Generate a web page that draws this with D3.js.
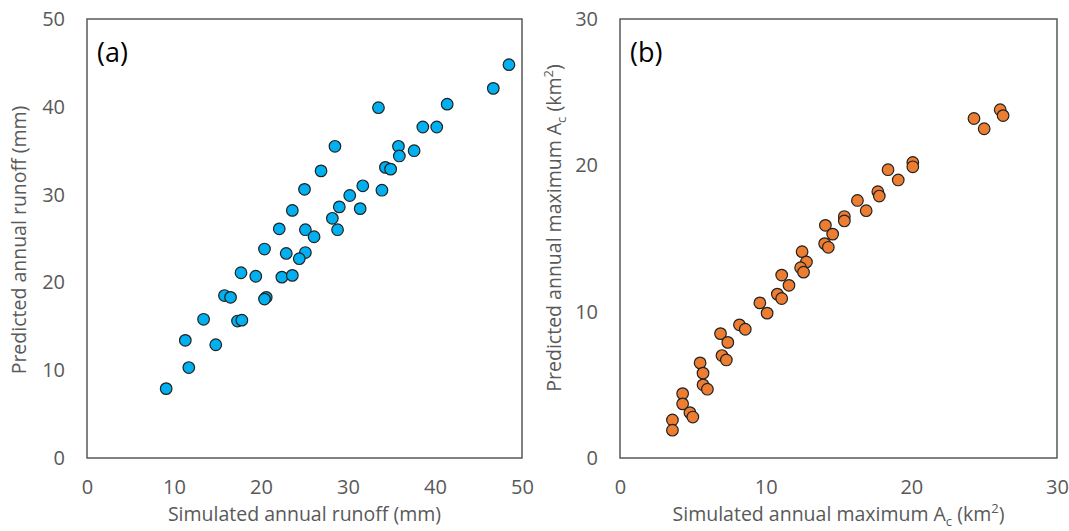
<!DOCTYPE html>
<html>
<head>
<meta charset="utf-8">
<script src="https://cdn.jsdelivr.net/npm/d3@7"></script>
<style>
  body { margin: 0; background: #fff; }
  .tick text { font-family: "Open Sans", sans-serif; font-size: 20px; fill: #595959; }
  .label { font-family: "Open Sans", sans-serif; font-size: 19.5px; fill: #595959; }
  .panel { font-family: "Open Sans", sans-serif; font-size: 27px; fill: #000; }
</style>
</head>
<body>
<div id="chart"></div>
<script>
// panel (a): simulated vs predicted annual runoff (mm)
var runoffSim = [48.5, 46.7, 33.5, 41.4, 38.6, 40.2, 28.5, 35.8, 37.6, 35.9, 26.9, 34.3, 34.9, 25.0, 31.7,
    30.2, 33.9, 29.0, 31.4, 23.6, 28.2, 22.1, 25.1, 28.8, 26.1, 20.4, 22.9, 25.1, 24.4, 17.7,
    19.4, 22.4, 23.6, 15.8, 16.5, 20.6, 20.4, 13.4, 17.3, 17.8, 11.3, 14.8, 11.7, 9.1];
var runoffPred = [44.8, 42.1, 39.9, 40.3, 37.7, 37.7, 35.5, 35.5, 35.0, 34.4, 32.7, 33.1, 32.9, 30.6, 31.0,
    29.9, 30.5, 28.6, 28.4, 28.2, 27.3, 26.1, 26.0, 26.0, 25.2, 23.8, 23.3, 23.4, 22.7, 21.1,
    20.7, 20.6, 20.8, 18.5, 18.3, 18.3, 18.1, 15.8, 15.6, 15.7, 13.4, 12.9, 10.3, 7.9];

// panel (b): simulated vs predicted annual maximum Ac (km2)
var acSim = [26.1, 26.3, 24.3, 25.0, 20.1, 20.1, 18.4, 19.1, 17.7, 17.8, 16.3, 16.9, 15.4, 15.4, 14.1,
    14.6, 14.05, 14.3, 12.5, 12.8, 12.4, 12.6, 11.1, 11.6, 10.8, 11.1, 9.6, 10.1, 8.2, 8.6,
    6.9, 7.4, 7.0, 7.3, 5.5, 5.7, 5.7, 6.0, 4.3, 4.3, 4.8, 5.0, 3.6, 3.6];
var acPred = [23.8, 23.4, 23.2, 22.5, 20.2, 19.9, 19.7, 19.0, 18.2, 17.9, 17.6, 16.9, 16.5, 16.2, 15.9,
    15.3, 14.65, 14.4, 14.1, 13.4, 13.0, 12.7, 12.5, 11.8, 11.2, 10.9, 10.6, 9.9, 9.1, 8.8,
    8.5, 7.9, 7.0, 6.7, 6.5, 5.8, 5.0, 4.7, 4.4, 3.7, 3.1, 2.8, 2.6, 1.9];

var ticksA = [0, 10, 20, 30, 40, 50];
var ticksB = [0, 10, 20, 30];

var totalWidth = 1069;
var totalHeight = 531;

var svg = d3.select("#chart").append("svg")
    .attr("width", totalWidth)
    .attr("height", totalHeight);

function panel(opts) {
    var xSca = d3.scaleLinear().domain(opts.domain).range([opts.left, opts.right]);
    var ySca = d3.scaleLinear().domain(opts.domain).range([opts.bottom, opts.top]);

    var g = svg.append("g");

    // x axis
    g.append("g")
        .attr("transform", "translate(0," + (opts.bottom + 8) + ")")
        .call(d3.axisBottom(xSca).tickValues(opts.ticks).tickSize(0).tickPadding(14).tickFormat(d3.format("d")))
        .call(function(s){ s.select(".domain").remove(); });

    // y axis
    g.append("g")
        .attr("transform", "translate(" + (opts.left - 22) + ",0)")
        .call(d3.axisLeft(ySca).tickValues(opts.ticks).tickSize(0).tickPadding(0).tickFormat(d3.format("d")))
        .call(function(s){ s.select(".domain").remove(); });

    // plot frame
    g.append("rect")
        .attr("x", opts.left)
        .attr("y", opts.top)
        .attr("width", opts.right - opts.left)
        .attr("height", opts.bottom - opts.top)
        .style("fill", "none")
        .style("stroke", "#595959")
        .style("stroke-width", 1.5);

    // dots
    var pts = opts.xs.map(function(x, i){ return {x: x, y: opts.ys[i]}; });
    g.selectAll(".dot")
        .data(pts)
        .enter().append("circle")
        .attr("class", "dot")
        .attr("cx", function(d){ return xSca(d.x); })
        .attr("cy", function(d){ return ySca(d.y); })
        .attr("r", 5.8)
        .style("fill", opts.color)
        .style("stroke", "#222")
        .style("stroke-width", 1.2);

    g.append("text")
        .attr("class", "panel")
        .attr("x", opts.left + 10)
        .attr("y", opts.top + 43)
        .text(opts.tag);

    return g;
}

var ga = panel({
    xs: runoffSim, ys: runoffPred, domain: [0, 50], ticks: ticksA,
    left: 87, right: 522, top: 19, bottom: 458, color: "#00B0F0", tag: "(a)"
});

var gb = panel({
    xs: acSim, ys: acPred, domain: [0, 30], ticks: ticksB,
    left: 620, right: 1057, top: 19, bottom: 458, color: "#ED7D31", tag: "(b)"
});

// axis titles
ga.append("text")
    .attr("class", "label")
    .attr("x", 304.5)
    .attr("y", 521)
    .style("text-anchor", "middle")
    .text("Simulated annual runoff (mm)");

ga.append("text")
    .attr("class", "label")
    .attr("transform", "translate(26,240) rotate(-90)")
    .style("text-anchor", "middle")
    .text("Predicted annual runoff (mm)");

function acLabel(t, first) {
    t.append("tspan").text(first + " maximum A");
    t.append("tspan").attr("dy", 5).style("font-size", "13px").text("c");
    t.append("tspan").attr("dy", -5).text(" (km");
    t.append("tspan").attr("dy", -8).style("font-size", "13px").text("2");
    t.append("tspan").attr("dy", 8).text(")");
}

var xb = gb.append("text")
    .attr("class", "label")
    .attr("x", 838.5)
    .attr("y", 521)
    .style("text-anchor", "middle");
acLabel(xb, "Simulated annual");

var yb = gb.append("text")
    .attr("class", "label")
    .attr("transform", "translate(561,228) rotate(-90)")
    .style("text-anchor", "middle");
acLabel(yb, "Predicted annual");
</script>
</body>
</html>
